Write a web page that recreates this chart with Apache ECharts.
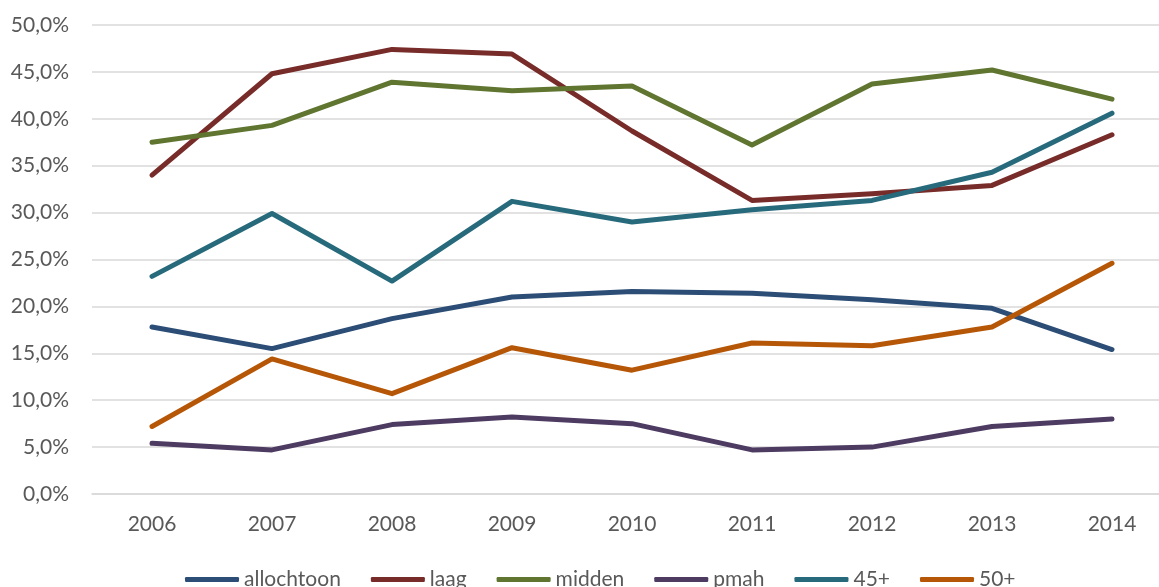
<!DOCTYPE html>
<html>
<head>
<meta charset="utf-8">
<script src="https://cdn.jsdelivr.net/npm/echarts@6/dist/echarts.min.js"></script>
<style>html,body{margin:0;padding:0;background:#fff;overflow:hidden;width:1159px;height:587px}#c{width:1172px;height:587px}</style>
</head>
<body>
<div id="c"></div>
<script>
var years = ['2006','2007','2008','2009','2010','2011','2012','2013','2014'];
var allochtoon = [17.8, 15.5, 18.7, 21.0, 21.6, 21.4, 20.7, 19.8, 15.4];
var laag = [34.0, 44.8, 47.4, 46.9, 38.7, 31.3, 32.0, 32.9, 38.3];
var midden = [37.5, 39.3, 43.9, 43.0, 43.5, 37.2, 43.7, 45.2, 42.1];
var pmah = [5.4, 4.7, 7.4, 8.2, 7.5, 4.7, 5.0, 7.2, 8.0];
var plus45 = [23.2, 29.9, 22.7, 31.2, 29.0, 30.3, 31.3, 34.3, 40.6];
var plus50 = [7.2, 14.4, 10.7, 15.6, 13.2, 16.1, 15.8, 17.8, 24.6];

var names = ['allochtoon','laag','midden','pmah','45+','50+'];
var datas = [allochtoon, laag, midden, pmah, plus45, plus50];
var colors = ['#2C4D75','#772C2A','#5F7530','#4D3B62','#276A7C','#B65708'];

var chart = echarts.init(document.getElementById('c'));
var font = 'Lato, "Open Sans", sans-serif';
chart.setOption({
  animation: false,
  color: colors,
  textStyle: {fontFamily: font},
  grid: {left: 92, right: 0, top: 25, bottom: 93},
  legend: {
    bottom: -8, left: 180,
    icon: 'roundRect', itemWidth: 54, itemHeight: 5, itemGap: 30,
    textStyle: {fontSize: 21, color: '#595959', fontFamily: font},
    data: names
  },
  xAxis: {
    type: 'category', data: years, boundaryGap: true,
    axisLine: {lineStyle: {color: '#D9D9D9', width: 1.5}},
    axisTick: {show: false},
    axisLabel: {fontSize: 21, color: '#595959', margin: 20, fontFamily: font}
  },
  yAxis: {
    type: 'value', min: 0, max: 50, interval: 5,
    axisLine: {show: false}, axisTick: {show: false},
    splitLine: {lineStyle: {color: '#D9D9D9', width: 1.5}},
    axisLabel: {fontSize: 21, color: '#595959', margin: 23, fontFamily: font,
      formatter: function(v){ return v.toFixed(1).replace('.', ',') + '%'; }}
  },
  series: names.map(function(n, i){
    return {name: n, type: 'line', data: datas[i], symbol: 'none',
      lineStyle: {width: 5, color: colors[i], cap: 'round', join: 'round'},
      itemStyle: {color: colors[i]}};
  })
});
</script>
</body>
</html>
